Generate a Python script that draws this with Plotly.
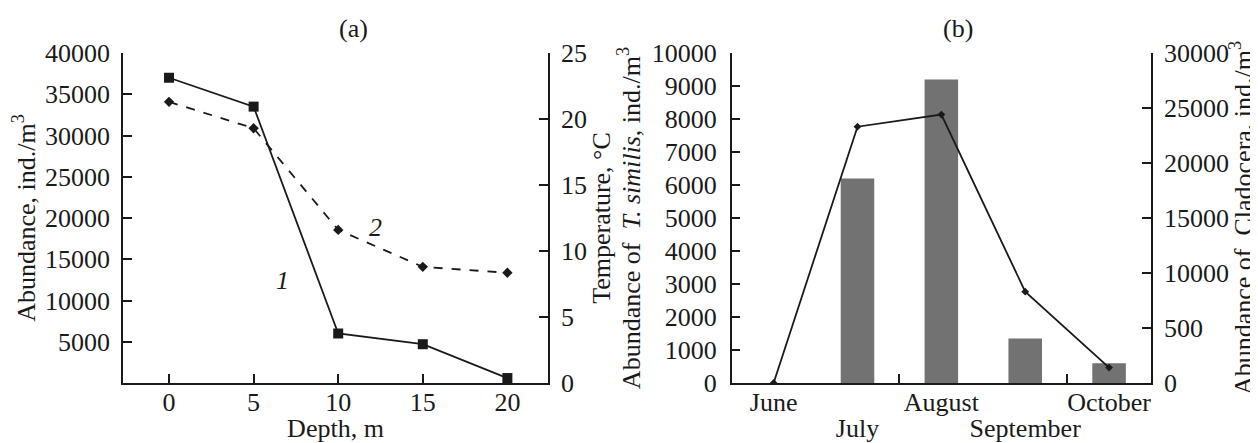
import plotly.graph_objects as go

# ---- data ----
depth = [0, 5, 10, 15, 20]
abundance = [37000, 33500, 6000, 4700, 600]
temperature = [21.3, 19.3, 11.6, 8.8, 8.35]

months = ["June", "July", "August", "September", "October"]
row1_months = ["June", "August", "October"]
row2_months = ["July", "September"]
t_similis = [0, 6200, 9200, 1350, 600]
cladocera = [0, 23300, 24400, 8300, 1400]

left_ticks = [5000, 10000, 15000, 20000, 25000, 30000, 35000, 40000]
temp_ticks = [0, 5, 10, 15, 20, 25]
sim_ticks = list(range(0, 10001, 1000))
clad_ticks = [0, 5000, 10000, 15000, 20000, 25000, 30000]
clad_ticktext = ["0", "500", "10000", "15000", "20000", "25000", "30000"]

OFF = 8  # page body margin
W, H = 1258 - OFF, 443 - OFF
FONT = "Liberation Serif"
INK = "#1a1a1a"
fs = 26

def px(x):
    return (x - OFF) / W

def py(y):
    return (H - (y - OFF)) / H

fig = go.Figure()

fig.add_trace(go.Scatter(x=depth, y=abundance, xaxis="x", yaxis="y",
                         mode="lines+markers",
                         line=dict(color=INK, width=1.8),
                         marker=dict(symbol="square", size=10, color=INK),
                         showlegend=False))
fig.add_trace(go.Scatter(x=depth, y=temperature, xaxis="x", yaxis="y2",
                         mode="lines+markers",
                         line=dict(color=INK, width=1.8, dash="dash"),
                         marker=dict(symbol="diamond", size=8, color=INK),
                         showlegend=False))
fig.add_trace(go.Bar(x=months, y=t_similis, xaxis="x2", yaxis="y3",
                     width=0.4, marker=dict(color="#727272", line=dict(width=0)),
                     showlegend=False))
fig.add_trace(go.Scatter(x=months, y=cladocera, xaxis="x3", yaxis="y4",
                         mode="lines+markers",
                         line=dict(color=INK, width=1.8),
                         marker=dict(symbol="diamond", size=6, color=INK),
                         showlegend=False))

axis_common = dict(showline=True, linecolor=INK, linewidth=1.5, ticks="inside",
                   ticklen=9, tickwidth=1.5, tickcolor=INK, showgrid=False,
                   zeroline=False, automargin=False, tickangle=0, tickformat="d",
                   tickfont=dict(family=FONT, size=fs, color=INK))

ydom = [py(383), py(53)]
xdom_a = [px(123), px(548)]
xdom_b = [px(731.7), px(1151)]
tfont = dict(family=FONT, size=fs, color=INK)

fig.update_layout(
    width=W, height=H,
    margin=dict(l=0, r=0, t=0, b=0),
    paper_bgcolor="white", plot_bgcolor="white",
    font=dict(family=FONT, size=fs, color=INK),
    xaxis=dict(domain=xdom_a, range=[-2.72, 22.4], anchor="y",
               tickvals=[0, 5, 10, 15, 20], ticklabelstandoff=-5,
               title=dict(text="Depth, m", font=tfont, standoff=2),
               **axis_common),
    yaxis=dict(domain=ydom, range=[0, 40000], anchor="x", tickvals=left_ticks,
               ticklabelstandoff=6,
               title=dict(text="Abundance, ind./m<sup>3</sup>", font=tfont, standoff=4),
               **axis_common),
    yaxis2=dict(domain=ydom, range=[0, 25], overlaying="y", side="right", anchor="x",
                tickvals=temp_ticks, ticklabelstandoff=6,
                title=dict(text="Temperature, °C", font=tfont, standoff=6),
                **axis_common),
    xaxis2=dict(domain=xdom_b, range=[-0.5, 4.5], anchor="y3",
                type="category", tickson="boundaries", categoryorder="array",
                categoryarray=months, tickvals=row1_months, ticklabelstandoff=-5,
                **axis_common),
    xaxis3=dict(domain=xdom_b, range=[-0.5, 4.5], anchor="y4", overlaying="x2",
                type="category", categoryorder="array", categoryarray=months,
                tickvals=row2_months, showline=False, ticks="", showgrid=False,
                zeroline=False, automargin=False, tickangle=0, ticklabelstandoff=27,
                tickfont=dict(family=FONT, size=fs, color=INK)),
    yaxis3=dict(domain=ydom, range=[0, 10000], anchor="x2", tickvals=sim_ticks,
                ticklabelstandoff=8,
                title=dict(text="Abundance of  <i>T. similis</i>, ind./m<sup>3</sup>",
                           font=tfont, standoff=4),
                **axis_common),
    yaxis4=dict(domain=ydom, range=[0, 30000], overlaying="y3", side="right", anchor="x2",
                tickvals=clad_ticks, ticktext=clad_ticktext, ticklabelstandoff=6,
                title=dict(text="Abundance of  Cladocera, ind./m<sup>3</sup>",
                           font=tfont, standoff=2),
                **axis_common),
)

ann = dict(showarrow=False, xanchor="center", yanchor="middle", font=tfont)
fig.add_annotation(text="(a)", x=px(353), y=py(28), xref="paper", yref="paper", **ann)
fig.add_annotation(text="(b)", x=px(958), y=py(28), xref="paper", yref="paper", **ann)
fig.add_annotation(text="<i>1</i>", x=6.7, y=12480, xref="x", yref="y", **ann)
fig.add_annotation(text="<i>2</i>", x=12.2, y=11.8, xref="x", yref="y2", **ann)

fig.write_html("out.html")
